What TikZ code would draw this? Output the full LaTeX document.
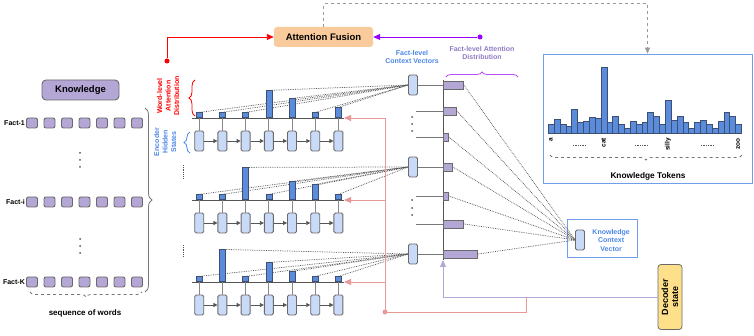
\documentclass[tikz,border=0pt]{standalone}
\usepackage{fontspec}
\setmainfont{Liberation Sans}
\usetikzlibrary{arrows.meta, positioning, calc, decorations.pathreplacing}
\definecolor{wordfill}{HTML}{B4A7D6}
\definecolor{hidfill}{HTML}{C9DAF8}
\definecolor{barfill}{HTML}{5B8BDB}
\definecolor{bardraw}{HTML}{3D4F73}
\definecolor{boxdraw}{HTML}{6A6A6A}
\definecolor{axiscolor}{HTML}{555555}
\definecolor{bluetext}{HTML}{4A86E8}
\definecolor{purtext}{HTML}{8E7CC3}
\definecolor{pinkline}{HTML}{EA9999}
\definecolor{vio}{HTML}{9900FF}
\definecolor{fusionfill}{HTML}{F9CB9C}
\definecolor{decfill}{HTML}{FFE08A}
\definecolor{decline}{HTML}{B4A7D6}

\begin{document}
\begin{tikzpicture}[x=1pt, y=-1pt,
    every node/.style={font=\fontsize{7}{8.5}\selectfont\bfseries},
    word/.style={draw=boxdraw, fill=wordfill, line width=0.9pt, rounded corners=2pt,
        minimum width=11pt, minimum height=10pt, inner sep=0pt},
    hid/.style={draw=boxdraw, fill=hidfill, line width=0.9pt, rounded corners=1.5pt,
        minimum width=9pt, minimum height=20pt, inner sep=0pt},
    wbar/.style={draw=bardraw, fill=barfill, line width=0.6pt, anchor=south,
        minimum width=6pt, inner sep=0pt},
    fbar/.style={draw=boxdraw, fill=wordfill, line width=0.8pt, anchor=west,
        minimum height=8pt, inner sep=0pt},
    kbar/.style={draw=bardraw, fill=barfill, line width=0.6pt, anchor=south west,
        minimum width=5.85pt, inner sep=0pt},
    att/.style={densely dotted, draw=axiscolor, line width=0.75pt},
    seq/.style={axiscolor, line width=0.8pt, -{Triangle[length=4pt, width=4pt]}},
    brc/.style={decorate, line width=0.8pt},
    tip/.style={-{Triangle[length=7pt, width=6pt]}},
]
\useasboundingbox (0,0) rectangle (754,336);

% left: the knowledge facts as word sequences
\node[word, minimum width=77pt, minimum height=20pt, rounded corners=4pt,
    font=\fontsize{9.5}{11}\selectfont\bfseries] (know) at (80.5,90) {Knowledge};
\foreach \r/\y/\t in {1/123/Fact-1, i/202/Fact-i, K/282/Fact-K}{
    \foreach \c in {1,...,7}
        \node[word] (wd\r-\c) at ({14.5+17.5*\c},\y) {};
    \node[anchor=east, inner sep=1pt] (lab\r) at (wd\r-1.west) {\t};
}
\foreach \y in {153,160,167,239,246,253}
    \fill[axiscolor] (80,\y) circle (1pt);
\draw[brc, axiscolor!80, decoration={brace, amplitude=7pt}] (145,108) -- (145,292);
\draw[brc, dashed, axiscolor!80, decoration={brace, amplitude=5pt, mirror}] (30,292) -- (142,292);
\node[font=\fontsize{8}{9}\selectfont\bfseries] (seq-lab) at (85,313) {sequence of words};

% middle: word-level encoders, one per fact
\node[rotate=90, text=red, align=center] (wl-lab) at (168,96) {Word-level\\Attention\\Distribution};
\draw[brc, red, decoration={brace, amplitude=6pt}] (195,116) -- (195,80);
\node[rotate=90, text=bluetext, align=center] (hs-lab) at (165,142) {Encoder\\Hidden\\States};
\draw[brc, bluetext, decoration={brace, amplitude=6pt}] (190,153) -- (190,132);
\draw[axiscolor, densely dotted, line width=0.8pt] (183,165) -- (183,178);
\draw[axiscolor, densely dotted, line width=0.8pt] (183,245) -- (183,257);

\foreach \blk/\yb/\yc/\hs in {1/118/85/{5,5,5,27,19,5,10}, 2/200/167/{5,5,32,5,18,15,5}, 3/282/254/{5,32,5,19,10,5,5}}{
    \coordinate (bl\blk-s) at (192,\yb);
    \coordinate (bl\blk-e) at (344,\yb);
    \draw[axiscolor, line width=0.9pt] (bl\blk-s) -- (bl\blk-e);
    \node[hid] (fc\blk) at (413,\yc) {};
    \foreach \h [count=\c] in \hs {
        \node[hid] (h\blk-\c) at ({176+23.2*\c},{\yb+23}) {};
        \node[wbar, minimum height=\h pt] (at\blk-\c) at ({176+23.2*\c},\yb) {};
        \draw[axiscolor!70, line width=0.9pt] (h\blk-\c.north) -- (at\blk-\c.south);
        \draw[att] (at\blk-\c.north) -- (fc\blk.west);
    }
    \foreach \c [remember=\c as \p (initially 1)] in {2,...,7}
        \draw[seq] (h\blk-\p.east) -- (h\blk-\c.west);
}

% fact level attention
\node[text=bluetext, align=center] (fc-lab) at (412,57) {Fact-level\\Context Vectors};
\node[text=purtext, align=center] (fa-lab) at (482,53) {Fact-level Attention\\Distribution};
\draw[brc, vio!70, decoration={brace, amplitude=5pt}] (446,77) -- (518,77);

\node[draw=bluetext!80, line width=0.8pt, minimum width=70pt, minimum height=38pt] (kframe) at (602,238) {};
\node[hid] (kcv) at (580,240) {};
\node[text=bluetext, align=center, right=4pt of kcv] (kcv-lab) {Knowledge\\Context\\Vector};

\coordinate (ax-top) at (443,80);
\coordinate (ax-bot) at (443,260);
\draw[axiscolor, line width=0.9pt] (ax-top) -- (ax-bot);
\foreach \i/\y/\l in {1/85/20, 2/111/13, 3/137/5, 4/167/9, 5/196/5, 6/224/20, 7/254/34}{
    \node[fbar, minimum width=\l pt] (fb\i) at (443,\y) {};
    \draw[att] (fb\i.east) -- (kcv.west);
}
\foreach \blk/\i in {1/1, 2/4, 3/7}
    \draw[axiscolor!80, line width=0.9pt] (fc\blk.east) -- (fb\i.west);
\foreach \i/\y in {2/111, 3/137, 5/196, 6/224}{
    \coordinate (fl\i) at (416,\y);
    \draw[axiscolor!80, line width=0.9pt] (fl\i) -- (fb\i.west);
}
\foreach \y in {117,124,131,200,208,215}
    \fill[axiscolor] (412,\y) circle (1pt);

% decoder state feeding both levels
\node[draw=boxdraw, fill=decfill, line width=0.8pt, rounded corners=3pt, rotate=90,
    minimum width=65pt, minimum height=24pt, align=center,
    font=\fontsize{9}{10}\selectfont\bfseries] (dec) at (670,297) {Decoder\\state};
\draw[decline, line width=0.9pt, tip] (dec.north) -| (ax-bot);
\foreach \blk/\yb in {1/118, 2/200, 3/282}
    \coordinate (pk\blk) at (385,\yb);
\coordinate (pkdot) at (385,312);
\coordinate (pkjoin) at (526,297);
\draw[pinkline, line width=0.9pt] (pk1) -- (pkdot) -| (pkjoin);
\fill[pinkline] (pkdot) circle (2.5pt);
\foreach \blk in {1,2,3}
    \draw[pinkline, line width=0.9pt, tip] (pk\blk) -- (bl\blk-e);

% top: attention fusion
\node[fill=fusionfill, rounded corners=3pt, minimum width=99pt, minimum height=20pt,
    font=\fontsize{9.5}{11}\selectfont\bfseries] (fusion) at (323.5,37) {Attention Fusion};
\node[circle, fill=red, inner sep=0pt, minimum size=5pt] (reddot) at (167,61) {};
\draw[red, line width=0.9pt, tip] (reddot) |- (fusion.west);
\node[circle, fill=vio, inner sep=0pt, minimum size=5pt] (viodot) at (480,37) {};
\draw[vio, line width=0.9pt, tip] (viodot) -- (fusion.east);

% right: distribution over knowledge tokens
\node[draw=bluetext!80, line width=0.8pt, minimum width=209pt, minimum height=129pt] (ktok) at (647.5,118.5) {};
\coordinate (fz-up) at (323.5,4);
\draw[axiscolor!60, dashed, line width=1pt, -{Triangle[length=6pt, width=5pt]}] (fusion.north) -- (fz-up) -| (ktok.north);
\foreach \h [count=\i] in {9.3,14.3,9.3,7,24,11,12,16.3,15.3,66,11,17,9.3,5,12,9.3,11.7,21,17,9.3,33.3,13,17,11,5,11.7,13.3,9.3,5,12,21,17,9.3}
    \node[kbar, minimum height=\h pt] (kb\i) at ({548+(\i-1)*5.85},134) {};
\foreach \i/\t in {1/a, 10/cat, 21/silly, 33/zoo}
    \node[rotate=90, anchor=east, inner sep=0pt, font=\fontsize{6.5}{7}\selectfont\bfseries] (tk\i) at ({548+(\i-0.5)*5.85},138) {\t};
\foreach \x in {579,641,707}
    \draw[axiscolor, densely dotted, line width=0.7pt] (\x-6,145) -- (\x+6,145);
\draw[brc, dashed, axiscolor!80, decoration={brace, amplitude=5pt, mirror}] (550,155) -- (742,155);
\node[font=\fontsize{8.3}{10}\selectfont\bfseries] (ktok-lab) at (648,176) {Knowledge Tokens};

\end{tikzpicture}
\end{document}
